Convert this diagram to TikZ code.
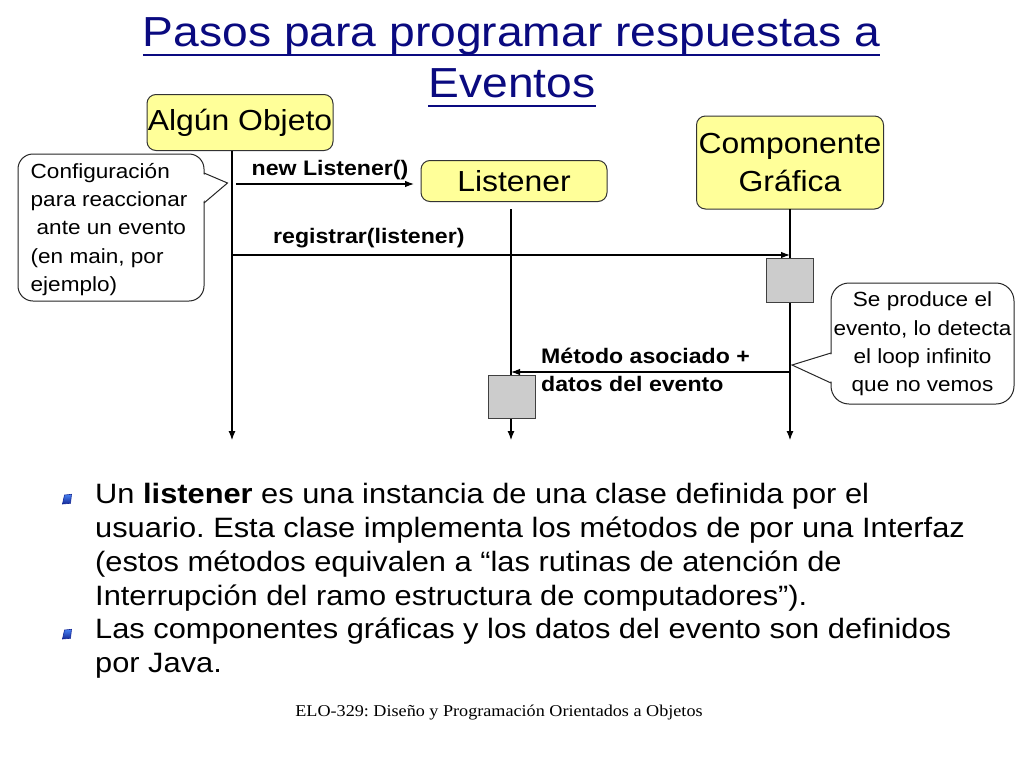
\documentclass[tikz,border=0pt]{standalone}
\usepackage{fontspec}
\setmainfont{Liberation Sans}[FakeStretch=1.1]
\newfontfamily\footfont{Liberation Serif}[FakeStretch=1.1]
\usetikzlibrary{arrows.meta}
\definecolor{boxyellow}{RGB}{255,255,153}
\definecolor{titleblue}{RGB}{10,10,128}
\definecolor{actgray}{RGB}{204,204,204}
\definecolor{bulletdark}{RGB}{20,40,150}
\definecolor{bulletlight}{RGB}{70,130,245}
\newcommand\fsz[2]{\fontsize{#1}{#2}\selectfont}
\frenchspacing
\begin{document}
\begin{tikzpicture}[x=1pt,y=-1pt,
  titletext/.style={font=\fsz{42}{50}, text=titleblue, inner sep=0pt},
  titleline/.style={draw=titleblue, line width=2.6pt},
  actor/.style={draw=black!80, fill=boxyellow, rounded corners=9pt, line width=1pt,
    font=\fsz{29}{37.4}, align=center, inner sep=0pt},
  life/.style={line width=1.1pt, -{Latex[length=9pt,width=7pt]}},
  msg/.style={line width=1.1pt, -{Latex[length=9pt,width=6.5pt]}},
  act/.style={draw=black!75, fill=actgray, line width=1pt, minimum width=47pt,
    minimum height=44pt, inner sep=0pt},
  lbl/.style={font=\bfseries\fsz{21}{26}, inner sep=0pt},
  callbox/.style={draw=black!85, fill=white, line width=1pt, inner sep=0pt},
  callline/.style={draw=black!85, line width=1pt},
  note/.style={font=\fsz{20.5}{26}, inner sep=0pt},
  body/.style={font=\fsz{28}{34}, inner sep=0pt, anchor=base west},
  bul/.style={top color=bulletlight, bottom color=bulletdark, draw=bulletdark, line width=0.6pt}
]
\useasboundingbox (0,0) rectangle (1024,768);
\fill[white] (0,0) rectangle (1024,768);

% title
\node[titletext, anchor=base] (t1) at (511.5,47) {Pasos para programar respuestas a};
\node[titletext, anchor=base] (t2) at (512,97) {Eventos};
\draw[titleline] ([yshift=-8pt]t1.base west) -- ([yshift=-8pt]t1.base east);
\draw[titleline] ([yshift=-9pt]t2.base west) -- ([yshift=-9pt]t2.base east);

% actors
\node[actor, minimum width=186pt, minimum height=56pt] (obj) at (240,122.5) {Algún Objeto};
\node[actor, minimum width=186pt, minimum height=41pt] (lst) at (514,181) {Listener};
\node[actor, minimum width=187pt, minimum height=93pt] (comp) at (790,162.5) {Componente\\Gráfica};

% lifelines
\coordinate (objS) at (232,150.5);
\coordinate (objE) at (232,440);
\coordinate (lstS) at (511,209);
\coordinate (lstE) at (511,440);
\coordinate (compS) at (790,209);
\coordinate (compE) at (790,440);
\draw[life] (objS) -- (objE);
\draw[life] (lstS) -- (lstE);
\draw[life] (compS) -- (compE);

% messages
\coordinate (m1s) at (236,184);
\coordinate (m1e) at (414,184);
\coordinate (m2s) at (232,255);
\coordinate (m2e) at (790,255);
\coordinate (m3s) at (790,372);
\coordinate (m3e) at (511,372);
\draw[msg] (m1s) -- (m1e);
\draw[msg] (m2s) -- (m2e);
\draw[msg] (m3s) -- (m3e);

% activation boxes
\node[act] (actc) at (789.5,280) {};
\node[act, minimum height=43pt] (actl) at (511.5,396.5) {};

% message labels
\node[lbl, anchor=base west] (l1) at (251.5,175) {new Listener()};
\node[lbl, anchor=base west] (l2) at (273,243.5) {registrar(listener)};
\node[lbl, anchor=base west] (l3a) at (541,363.3) {Método asociado +};
\node[lbl, anchor=base west] (l3b) at (541,391.7) {datos del evento};

% left callout
\node[callbox, rounded corners=15pt, minimum width=186pt, minimum height=147pt] (c1) at (111,227.5) {};
\coordinate (c1tip) at (227.5,183);
\fill[white] (202.5,174) -- (c1tip) -- (202.5,202) -- cycle;
\draw[callline] (204,173) -- (c1tip) -- (204,203);
\node[note, anchor=base west] (c1a) at (30.5,178) {Configuración};
\node[note, anchor=base west] (c1b) at (30.5,206.4) {para reaccionar};
\node[note, anchor=base west] (c1c) at (36.5,234.8) {ante un evento};
\node[note, anchor=base west] (c1d) at (30.5,263.3) {(en main, por};
\node[note, anchor=base west] (c1e) at (30.5,291.7) {ejemplo)};

% right callout
\node[callbox, rounded corners=18pt, minimum width=183pt, minimum height=121pt] (c2) at (922.5,343.5) {};
\coordinate (c2tip) at (792,365);
\fill[white] (832.5,354) -- (c2tip) -- (832.5,382) -- cycle;
\draw[callline] (831,353) -- (c2tip) -- (831,383);
\node[note, anchor=base] (c2a) at (922.5,306.7) {Se produce el};
\node[note, anchor=base] (c2b) at (922.5,335) {evento, lo detecta};
\node[note, anchor=base] (c2c) at (922.5,363.3) {el loop infinito};
\node[note, anchor=base] (c2d) at (922.5,391.7) {que no vemos};

% bullets
\shade[bul] (62.5,504) -- (70.5,503.3) -- (71.5,494.3) -- (64.5,495) -- cycle;
\shade[bul] (62.5,639) -- (70.5,638.3) -- (71.5,629.3) -- (64.5,630) -- cycle;
\node[body] (b1) at (95,503.5) {Un \textbf{listener} es una instancia de una clase definida por el};
\node[body] (b2) at (95,537.3) {usuario. Esta clase implementa los métodos de por una Interfaz};
\node[body] (b3) at (95,571) {(estos métodos equivalen a “las rutinas de atención de};
\node[body] (b4) at (95,605) {Interrupción del ramo estructura de computadores”).};
\node[body] (b5) at (95,638.5) {Las componentes gráficas y los datos del evento son definidos};
\node[body] (b6) at (95,672.3) {por Java.};

% footer
\node[anchor=base, inner sep=0pt, font=\footfont\fsz{16.5}{20}] (foot) at (499,716.5) {ELO-329: Diseño y Programación Orientados a Objetos};
\end{tikzpicture}
\end{document}
